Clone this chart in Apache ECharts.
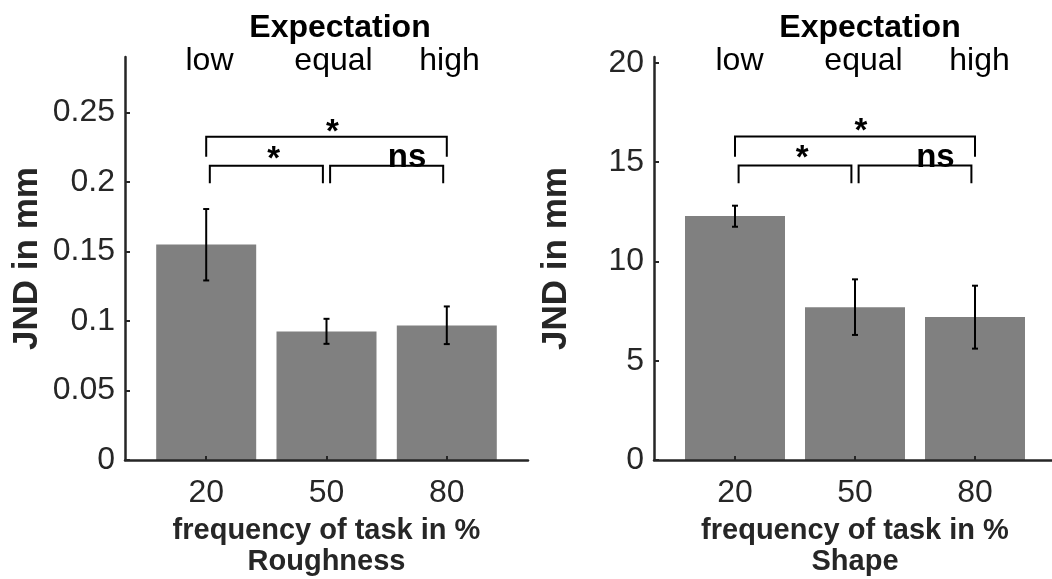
<!DOCTYPE html>
<html>
<head>
<meta charset="utf-8">
<script src="https://cdn.jsdelivr.net/npm/echarts@6/dist/echarts.min.js"></script>
<style>
html,body{margin:0;padding:0;background:#fff;}
#chart{width:1052px;height:579px;}
</style>
</head>
<body>
<div id="chart"></div>
<script>
// ---- data ----
const categories = ['20', '50', '80'];
const xPositions = [1, 2, 3];
const expectationLabels = ['low', 'equal', 'high'];

const roughMean = [0.155, 0.0924, 0.0968];
const roughLow  = [0.1292, 0.0836, 0.0834];
const roughHigh = [0.1806, 0.1016, 0.1105];
const roughTicks = [0, 0.05, 0.1, 0.15, 0.2, 0.25];

const shapeMean = [12.29, 7.69, 7.20];
const shapeLow  = [11.75, 6.30, 5.61];
const shapeHigh = [12.81, 9.10, 8.78];
const shapeTicks = [0, 5, 10, 15, 20];

// significance brackets: [x1, x2, yTop, yLegEnd]
const roughBrackets = [[1.0, 3.0, 0.2326, 0.2183], [1.03, 1.97, 0.2118, 0.1991], [2.03, 2.97, 0.2118, 0.1991]];
const shapeBrackets = [[1.0, 3.0, 16.29, 15.28], [1.03, 1.97, 14.83, 13.94], [2.03, 2.97, 14.83, 13.94]];
// significance labels: [x, y, text]
const roughSig = [[2.05, 0.2355, '*'], [1.56, 0.2161, '*'], [2.67, 0.2173, 'ns']];
const shapeSig = [[2.05, 16.52, '*'], [1.56, 15.16, '*'], [2.67, 15.21, 'ns']];

const panelNames = ['Roughness', 'Shape'];
// ---- chart ----
const FONT = "'Liberation Sans', Arial, Helvetica, sans-serif";
const AX = '#262626';
const chart = echarts.init(document.getElementById('chart'));

function xAxisDef(idx) {
  return {
    type: 'value', gridIndex: idx, min: 0.325, max: 3.675, z: 10,
    axisLine: { show: true, onZero: false, lineStyle: { color: AX, width: 2.5 } },
    axisTick: { show: true, inside: true, length: 4, customValues: xPositions, lineStyle: { color: AX, width: 2 } },
    axisLabel: { customValues: xPositions, margin: 17, fontSize: 32, color: AX, fontFamily: FONT,
      formatter: v => categories[Math.round(v) - 1] },
    splitLine: { show: false },
    name: 'frequency of task in %\n' + panelNames[idx], nameLocation: 'middle', nameGap: 55,
    nameTextStyle: { fontSize: 29, fontWeight: 'bold', color: AX, fontFamily: FONT, lineHeight: 31, verticalAlign: 'top' }
  };
}
function yAxisDef(idx, max, ticks) {
  return {
    type: 'value', gridIndex: idx, min: 0, max: max, z: 10,
    axisLine: { show: true, lineStyle: { color: AX, width: 2.5 } },
    axisTick: { show: true, inside: true, length: 5, customValues: ticks, lineStyle: { color: AX, width: 2 } },
    axisLabel: { customValues: ticks, margin: 10, fontSize: 32, color: AX, fontFamily: FONT },
    splitLine: { show: false },
    name: 'JND in mm', nameLocation: 'middle', nameGap: 80,
    nameTextStyle: { fontSize: 35, fontWeight: 'bold', color: AX, fontFamily: FONT }
  };
}
function barSeries(idx, means) {
  return { type: 'bar', xAxisIndex: idx, yAxisIndex: idx, barWidth: 100, z: 2,
    itemStyle: { color: '#808080' },
    data: xPositions.map((x, i) => [x, means[i]]) };
}
function errSeries(idx, lows, highs) {
  return { type: 'custom', xAxisIndex: idx, yAxisIndex: idx, z: 5,
    data: xPositions.map((x, i) => [x, lows[i], highs[i]]),
    renderItem: (params, api) => {
      const p1 = api.coord([api.value(0), api.value(1)]);
      const p2 = api.coord([api.value(0), api.value(2)]);
      const w = 3;
      const st = { stroke: '#000', lineWidth: 2 };
      return { type: 'group', children: [
        { type: 'line', shape: { x1: p1[0], y1: p1[1], x2: p2[0], y2: p2[1] }, style: st },
        { type: 'line', shape: { x1: p1[0] - w, y1: p1[1], x2: p1[0] + w, y2: p1[1] }, style: st },
        { type: 'line', shape: { x1: p2[0] - w, y1: p2[1], x2: p2[0] + w, y2: p2[1] }, style: st }
      ] };
    } };
}
function bracketSeries(idx, br) {
  return { type: 'custom', xAxisIndex: idx, yAxisIndex: idx, z: 5, clip: false,
    data: br,
    renderItem: (params, api) => {
      const a = api.coord([api.value(0), api.value(3)]);
      const b = api.coord([api.value(0), api.value(2)]);
      const c = api.coord([api.value(1), api.value(2)]);
      const d = api.coord([api.value(1), api.value(3)]);
      return { type: 'polyline', shape: { points: [a, b, c, d] }, style: { stroke: '#000', lineWidth: 2, fill: null } };
    } };
}
function sigSeries(idx, sig) {
  return { type: 'custom', xAxisIndex: idx, yAxisIndex: idx, z: 6, clip: false,
    data: sig,
    renderItem: (params, api) => {
      const p = api.coord([api.value(0), api.value(1)]);
      return { type: 'text', x: p[0], y: p[1], style: { text: sig[params.dataIndex][2], fontSize: 33, fontWeight: 'bold',
        fontFamily: FONT, fill: '#000', align: 'center', verticalAlign: 'middle' } };
    } };
}

const panelOffsets = [0, 530];
const graphics = [];
panelOffsets.forEach(off => {
  graphics.push({ type: 'text', x: 340 + off, y: 28, style: { text: 'Expectation', fontSize: 32, fontWeight: 'bold', fontFamily: FONT, fill: '#000', align: 'center', verticalAlign: 'middle' } });
  [209.5, 333.5, 449.5].forEach((px, i) => {
    graphics.push({ type: 'text', x: px + off, y: 61, style: { text: expectationLabels[i], fontSize: 32, fontFamily: FONT, fill: '#000', align: 'center', verticalAlign: 'middle' } });
  });
});

chart.setOption({
  animation: false,
  backgroundColor: '#fff',
  grid: [
    { left: 125, top: 57, width: 403, height: 403, containLabel: false, outerBoundsMode: 'none' },
    { left: 654, top: 57, width: 402, height: 403, containLabel: false, outerBoundsMode: 'none' }
  ],
  xAxis: [xAxisDef(0), xAxisDef(1)],
  yAxis: [yAxisDef(0, 0.29, roughTicks), yAxisDef(1, 20.3, shapeTicks)],
  graphic: graphics,
  series: [
    barSeries(0, roughMean), errSeries(0, roughLow, roughHigh), bracketSeries(0, roughBrackets), sigSeries(0, roughSig),
    barSeries(1, shapeMean), errSeries(1, shapeLow, shapeHigh), bracketSeries(1, shapeBrackets), sigSeries(1, shapeSig)
  ]
});
</script>
</body>
</html>
